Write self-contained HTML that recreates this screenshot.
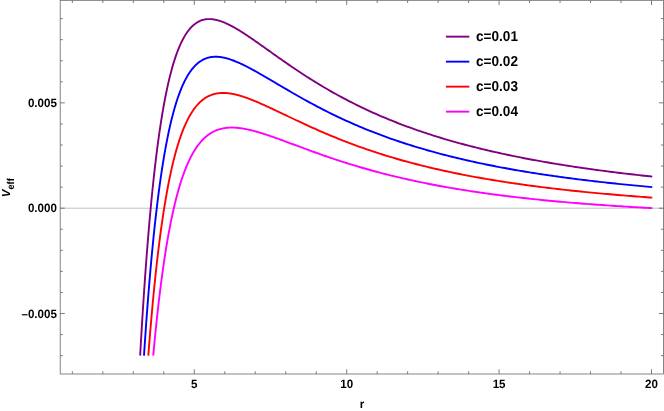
<!DOCTYPE html>
<html><head><meta charset="utf-8"><title>Veff plot</title>
<style>html,body{margin:0;padding:0;background:#fff;}body{width:664px;height:411px;position:relative;overflow:hidden;font-family:"Liberation Sans",sans-serif;}svg{position:absolute;left:0;top:0;display:block;}svg.t{will-change:transform;}text{font-family:"Liberation Sans",sans-serif;font-weight:bold;fill:#000;text-rendering:geometricPrecision;}</style></head>
<body>
<svg width="664" height="411" viewBox="0 0 664 411">
<rect x="0" y="0" width="664" height="411" fill="#fff"/>
<line x1="60.2" y1="208.20" x2="663.5" y2="208.20" stroke="#b0b0b0" stroke-width="0.8"/>
<polyline points="140.14,355.65 140.81,343.93 141.47,332.58 142.14,321.60 142.80,310.97 143.47,300.69 144.13,290.73 144.80,281.09 145.46,271.76 146.13,262.73 146.79,254.00 147.46,245.54 148.12,237.35 148.79,229.43 149.45,221.76 150.11,214.34 150.78,207.16 151.44,200.21 152.11,193.48 152.77,186.98 153.44,180.68 154.10,174.58 154.77,168.69 155.43,162.98 156.10,157.46 156.76,152.12 157.43,146.96 158.09,141.96 158.76,137.13 159.42,132.45 160.09,127.93 160.75,123.56 161.41,119.33 162.08,115.25 162.74,111.30 163.41,107.48 164.07,103.79 164.74,100.23 165.40,96.78 166.07,93.45 166.73,90.24 167.40,87.13 168.06,84.13 168.73,81.24 169.39,78.45 170.06,75.75 170.72,73.15 171.39,70.64 172.05,68.22 172.71,65.88 173.38,63.63 174.04,61.46 174.71,59.37 175.37,57.36 176.04,55.42 176.70,53.56 177.37,51.76 178.03,50.04 178.70,48.37 179.36,46.78 180.03,45.24 180.69,43.77 181.36,42.36 182.02,41.00 182.69,39.70 183.35,38.45 184.01,37.26 184.68,36.11 185.34,35.02 186.01,33.97 186.67,32.97 187.34,32.02 188.00,31.10 188.67,30.24 189.33,29.41 190.00,28.62 190.66,27.88 191.33,27.17 191.99,26.50 192.66,25.86 193.32,25.26 193.99,24.69 194.65,24.16 195.31,23.66 195.98,23.19 196.64,22.75 197.31,22.33 197.97,21.95 198.64,21.60 199.30,21.27 199.97,20.96 200.63,20.69 201.30,20.43 201.96,20.21 202.63,20.00 203.29,19.82 203.96,19.66 204.62,19.52 205.29,19.40 205.95,19.30 206.61,19.22 207.28,19.16 207.94,19.12 208.61,19.09 209.27,19.08 209.94,19.09 210.60,19.12 211.27,19.16 211.93,19.22 212.60,19.29 213.26,19.38 213.93,19.48 214.59,19.59 215.26,19.72 215.92,19.86 216.58,20.01 217.25,20.17 217.91,20.35 218.58,20.54 219.24,20.74 219.91,20.94 220.57,21.16 221.24,21.39 221.90,21.63 222.57,21.88 223.23,22.14 223.90,22.40 224.56,22.68 225.23,22.96 225.89,23.25 226.56,23.55 227.22,23.86 227.88,24.17 228.55,24.49 229.21,24.82 229.88,25.15 230.54,25.49 231.21,25.84 231.87,26.19 232.54,26.55 233.20,26.91 233.87,27.28 234.53,27.66 235.20,28.03 235.86,28.42 236.53,28.81 237.19,29.20 237.86,29.59 238.52,30.00 239.18,30.40 239.85,30.81 240.51,31.22 241.18,31.64 241.84,32.06 242.51,32.48 243.17,32.91 243.84,33.33 244.50,33.77 245.17,34.20 245.83,34.64 246.50,35.08 247.16,35.52 247.83,35.96 248.49,36.41 249.16,36.86 249.82,37.31 250.48,37.76 251.15,38.21 251.81,38.67 252.48,39.13 253.14,39.58 253.81,40.04 254.47,40.51 255.14,40.97 255.80,41.43 256.47,41.90 257.13,42.36 257.80,42.83 258.46,43.30 259.13,43.77 259.79,44.24 260.46,44.71 261.12,45.18 261.78,45.65 262.45,46.12 263.11,46.59 263.78,47.06 264.44,47.54 265.11,48.01 265.77,48.48 266.44,48.96 267.10,49.43 267.77,49.90 268.43,50.38 269.10,50.85 269.76,51.33 270.43,51.80 271.09,52.27 271.76,52.74 272.42,53.22 273.08,53.69 273.75,54.16 274.41,54.63 275.08,55.11 275.74,55.58 276.41,56.05 277.07,56.52 277.74,56.99 278.40,57.46 279.07,57.93 279.73,58.39 280.40,58.86 281.06,59.33 281.73,59.79 282.39,60.26 283.06,60.72 283.72,61.19 284.38,61.65 285.05,62.11 285.71,62.57 288.35,64.39 290.99,66.20 293.63,67.99 296.26,69.76 298.90,71.52 301.54,73.26 304.17,74.98 306.81,76.68 309.45,78.36 312.08,80.02 314.72,81.66 317.36,83.28 320.00,84.88 322.63,86.46 325.27,88.01 327.91,89.55 330.54,91.06 333.18,92.56 335.82,94.03 338.45,95.48 341.09,96.91 343.73,98.32 346.37,99.71 349.00,101.08 351.64,102.43 354.28,103.76 356.91,105.07 359.55,106.36 362.19,107.63 364.82,108.88 367.46,110.12 370.10,111.33 372.74,112.53 375.37,113.70 378.01,114.86 380.65,116.01 383.28,117.13 385.92,118.24 388.56,119.33 391.19,120.40 393.83,121.46 396.47,122.50 399.11,123.53 401.74,124.54 404.38,125.54 407.02,126.52 409.65,127.48 412.29,128.43 414.93,129.37 417.57,130.29 420.20,131.20 422.84,132.09 425.48,132.97 428.11,133.84 430.75,134.70 433.39,135.54 436.02,136.37 438.66,137.19 441.30,137.99 443.94,138.79 446.57,139.57 449.21,140.34 451.85,141.10 454.48,141.84 457.12,142.58 459.76,143.31 462.39,144.02 465.03,144.73 467.67,145.42 470.31,146.11 472.94,146.78 475.58,147.45 478.22,148.10 480.85,148.75 483.49,149.39 486.13,150.02 488.76,150.64 491.40,151.25 494.04,151.85 496.68,152.44 499.31,153.03 501.95,153.61 504.59,154.18 507.22,154.74 509.86,155.29 512.50,155.84 515.13,156.38 517.77,156.91 520.41,157.43 523.05,157.95 525.68,158.46 528.32,158.96 530.96,159.46 533.59,159.95 536.23,160.43 538.87,160.91 541.51,161.38 544.14,161.84 546.78,162.30 549.42,162.75 552.05,163.20 554.69,163.64 557.33,164.08 559.96,164.50 562.60,164.93 565.24,165.35 567.88,165.76 570.51,166.17 573.15,166.57 575.79,166.97 578.42,167.36 581.06,167.75 583.70,168.13 586.33,168.51 588.97,168.88 591.61,169.25 594.25,169.61 596.88,169.97 599.52,170.32 602.16,170.67 604.79,171.02 607.43,171.36 610.07,171.70 612.70,172.03 615.34,172.36 617.98,172.69 620.62,173.01 623.25,173.33 625.89,173.64 628.53,173.95 631.16,174.26 633.80,174.56 636.44,174.86 639.07,175.16 641.71,175.45 644.35,175.74 646.99,176.02 649.62,176.31 652.26,176.59" fill="none" stroke="#800080" stroke-width="1.9" stroke-linejoin="round"/>
<polyline points="143.99,355.66 144.64,345.81 145.29,336.26 145.93,327.01 146.58,318.03 147.23,309.34 147.88,300.90 148.52,292.72 149.17,284.80 149.82,277.11 150.46,269.66 151.11,262.43 151.76,255.43 152.41,248.63 153.05,242.05 153.70,235.66 154.35,229.47 154.99,223.47 155.64,217.66 156.29,212.02 156.94,206.55 157.58,201.25 158.23,196.11 158.88,191.13 159.52,186.31 160.17,181.63 160.82,177.09 161.47,172.70 162.11,168.44 162.76,164.32 163.41,160.32 164.05,156.44 164.70,152.69 165.35,149.05 166.00,145.53 166.64,142.12 167.29,138.82 167.94,135.62 168.58,132.52 169.23,129.52 169.88,126.62 170.53,123.81 171.17,121.09 171.82,118.45 172.47,115.91 173.11,113.44 173.76,111.06 174.41,108.75 175.06,106.52 175.70,104.37 176.35,102.28 177.00,100.27 177.64,98.32 178.29,96.44 178.94,94.63 179.59,92.88 180.23,91.18 180.88,89.55 181.53,87.98 182.17,86.46 182.82,84.99 183.47,83.58 184.12,82.22 184.76,80.90 185.41,79.64 186.06,78.43 186.70,77.26 187.35,76.13 188.00,75.05 188.64,74.01 189.29,73.01 189.94,72.05 190.59,71.13 191.23,70.25 191.88,69.41 192.53,68.60 193.17,67.82 193.82,67.08 194.47,66.38 195.12,65.70 195.76,65.06 196.41,64.44 197.06,63.86 197.70,63.30 198.35,62.78 199.00,62.28 199.65,61.80 200.29,61.35 200.94,60.93 201.59,60.53 202.23,60.16 202.88,59.80 203.53,59.47 204.18,59.17 204.82,58.88 205.47,58.61 206.12,58.37 206.76,58.14 207.41,57.93 208.06,57.74 208.71,57.57 209.35,57.42 210.00,57.28 210.65,57.16 211.29,57.06 211.94,56.97 212.59,56.90 213.24,56.84 213.88,56.80 214.53,56.77 215.18,56.75 215.82,56.75 216.47,56.76 217.12,56.78 217.77,56.81 218.41,56.86 219.06,56.92 219.71,56.98 220.35,57.06 221.00,57.15 221.65,57.25 222.30,57.36 222.94,57.48 223.59,57.61 224.24,57.75 224.88,57.90 225.53,58.05 226.18,58.22 226.83,58.39 227.47,58.57 228.12,58.76 228.77,58.95 229.41,59.15 230.06,59.36 230.71,59.58 231.36,59.80 232.00,60.03 232.65,60.26 233.30,60.51 233.94,60.75 234.59,61.00 235.24,61.26 235.89,61.52 236.53,61.79 237.18,62.07 237.83,62.34 238.47,62.63 239.12,62.91 239.77,63.20 240.42,63.50 241.06,63.80 241.71,64.10 242.36,64.41 243.00,64.72 243.65,65.03 244.30,65.35 244.95,65.67 245.59,66.00 246.24,66.32 246.89,66.65 247.53,66.99 248.18,67.32 248.83,67.66 249.47,68.00 250.12,68.34 250.77,68.69 251.42,69.04 252.06,69.39 252.71,69.74 253.36,70.09 254.00,70.45 254.65,70.80 255.30,71.16 255.95,71.53 256.59,71.89 257.24,72.25 257.89,72.62 258.53,72.98 259.18,73.35 259.83,73.72 260.48,74.09 261.12,74.46 261.77,74.84 262.42,75.21 263.06,75.58 263.71,75.96 264.36,76.34 265.01,76.71 265.65,77.09 266.30,77.47 266.95,77.85 267.59,78.23 268.24,78.61 268.89,78.99 269.54,79.37 270.18,79.75 270.83,80.13 271.48,80.51 272.12,80.89 272.77,81.27 273.42,81.66 274.07,82.04 274.71,82.42 275.36,82.80 276.01,83.19 276.65,83.57 277.30,83.95 277.95,84.33 278.60,84.72 279.24,85.10 279.89,85.48 280.54,85.86 281.18,86.24 281.83,86.62 282.48,87.00 283.13,87.39 283.77,87.77 284.42,88.14 285.07,88.52 285.71,88.90 288.35,90.44 290.99,91.97 293.63,93.49 296.26,95.00 298.90,96.50 301.54,97.99 304.17,99.46 306.81,100.91 309.45,102.36 312.08,103.78 314.72,105.19 317.36,106.59 320.00,107.96 322.63,109.33 325.27,110.67 327.91,112.00 330.54,113.31 333.18,114.60 335.82,115.87 338.45,117.13 341.09,118.37 343.73,119.59 346.37,120.80 349.00,121.99 351.64,123.16 354.28,124.31 356.91,125.45 359.55,126.57 362.19,127.68 364.82,128.76 367.46,129.84 370.10,130.89 372.74,131.93 375.37,132.96 378.01,133.97 380.65,134.96 383.28,135.94 385.92,136.90 388.56,137.85 391.19,138.79 393.83,139.71 396.47,140.61 399.11,141.50 401.74,142.38 404.38,143.25 407.02,144.10 409.65,144.94 412.29,145.77 414.93,146.58 417.57,147.38 420.20,148.17 422.84,148.95 425.48,149.71 428.11,150.47 430.75,151.21 433.39,151.94 436.02,152.66 438.66,153.37 441.30,154.07 443.94,154.76 446.57,155.43 449.21,156.10 451.85,156.76 454.48,157.41 457.12,158.04 459.76,158.67 462.39,159.29 465.03,159.90 467.67,160.50 470.31,161.09 472.94,161.68 475.58,162.25 478.22,162.82 480.85,163.38 483.49,163.93 486.13,164.47 488.76,165.00 491.40,165.53 494.04,166.05 496.68,166.56 499.31,167.07 501.95,167.56 504.59,168.05 507.22,168.54 509.86,169.01 512.50,169.48 515.13,169.94 517.77,170.40 520.41,170.85 523.05,171.29 525.68,171.73 528.32,172.16 530.96,172.59 533.59,173.01 536.23,173.42 538.87,173.83 541.51,174.23 544.14,174.63 546.78,175.02 549.42,175.40 552.05,175.79 554.69,176.16 557.33,176.53 559.96,176.90 562.60,177.26 565.24,177.61 567.88,177.97 570.51,178.31 573.15,178.65 575.79,178.99 578.42,179.33 581.06,179.65 583.70,179.98 586.33,180.30 588.97,180.61 591.61,180.93 594.25,181.23 596.88,181.54 599.52,181.84 602.16,182.13 604.79,182.43 607.43,182.72 610.07,183.00 612.70,183.28 615.34,183.56 617.98,183.83 620.62,184.11 623.25,184.37 625.89,184.64 628.53,184.90 631.16,185.16 633.80,185.41 636.44,185.66 639.07,185.91 641.71,186.15 644.35,186.40 646.99,186.64 649.62,186.87 652.26,187.11" fill="none" stroke="#0000ff" stroke-width="1.9" stroke-linejoin="round"/>
<polyline points="148.31,355.65 148.94,347.53 149.57,339.65 150.20,331.99 150.82,324.55 151.45,317.32 152.08,310.30 152.71,303.48 153.33,296.86 153.96,290.43 154.59,284.18 155.22,278.11 155.84,272.22 156.47,266.49 157.10,260.93 157.72,255.53 158.35,250.28 158.98,245.18 159.61,240.23 160.23,235.42 160.86,230.75 161.49,226.22 162.12,221.81 162.74,217.53 163.37,213.38 164.00,209.34 164.63,205.42 165.25,201.62 165.88,197.92 166.51,194.33 167.14,190.85 167.76,187.47 168.39,184.18 169.02,180.99 169.65,177.90 170.27,174.89 170.90,171.98 171.53,169.15 172.16,166.40 172.78,163.74 173.41,161.15 174.04,158.64 174.66,156.21 175.29,153.85 175.92,151.56 176.55,149.34 177.17,147.18 177.80,145.09 178.43,143.07 179.06,141.11 179.68,139.20 180.31,137.36 180.94,135.57 181.57,133.84 182.19,132.16 182.82,130.54 183.45,128.97 184.08,127.45 184.70,125.97 185.33,124.55 185.96,123.17 186.59,121.83 187.21,120.54 187.84,119.29 188.47,118.09 189.09,116.92 189.72,115.79 190.35,114.71 190.98,113.66 191.60,112.64 192.23,111.66 192.86,110.72 193.49,109.81 194.11,108.93 194.74,108.09 195.37,107.27 196.00,106.49 196.62,105.74 197.25,105.01 197.88,104.31 198.51,103.64 199.13,103.00 199.76,102.38 200.39,101.79 201.02,101.23 201.64,100.68 202.27,100.16 202.90,99.67 203.52,99.19 204.15,98.74 204.78,98.31 205.41,97.90 206.03,97.51 206.66,97.14 207.29,96.79 207.92,96.45 208.54,96.14 209.17,95.84 209.80,95.56 210.43,95.29 211.05,95.05 211.68,94.82 212.31,94.60 212.94,94.40 213.56,94.21 214.19,94.04 214.82,93.88 215.45,93.74 216.07,93.61 216.70,93.49 217.33,93.38 217.96,93.29 218.58,93.21 219.21,93.14 219.84,93.08 220.46,93.03 221.09,92.99 221.72,92.97 222.35,92.95 222.97,92.94 223.60,92.95 224.23,92.96 224.86,92.98 225.48,93.01 226.11,93.05 226.74,93.10 227.37,93.15 227.99,93.22 228.62,93.29 229.25,93.37 229.88,93.45 230.50,93.55 231.13,93.65 231.76,93.76 232.39,93.87 233.01,93.99 233.64,94.12 234.27,94.25 234.89,94.39 235.52,94.53 236.15,94.68 236.78,94.84 237.40,95.00 238.03,95.16 238.66,95.33 239.29,95.51 239.91,95.69 240.54,95.87 241.17,96.06 241.80,96.26 242.42,96.45 243.05,96.66 243.68,96.86 244.31,97.07 244.93,97.28 245.56,97.50 246.19,97.72 246.82,97.94 247.44,98.17 248.07,98.40 248.70,98.63 249.32,98.87 249.95,99.11 250.58,99.35 251.21,99.59 251.83,99.84 252.46,100.09 253.09,100.34 253.72,100.60 254.34,100.85 254.97,101.11 255.60,101.37 256.23,101.64 256.85,101.90 257.48,102.17 258.11,102.43 258.74,102.70 259.36,102.98 259.99,103.25 260.62,103.53 261.25,103.80 261.87,104.08 262.50,104.36 263.13,104.64 263.76,104.92 264.38,105.20 265.01,105.49 265.64,105.77 266.26,106.06 266.89,106.35 267.52,106.64 268.15,106.93 268.77,107.22 269.40,107.51 270.03,107.80 270.66,108.09 271.28,108.38 271.91,108.68 272.54,108.97 273.17,109.27 273.79,109.56 274.42,109.86 275.05,110.16 275.68,110.45 276.30,110.75 276.93,111.05 277.56,111.35 278.19,111.64 278.81,111.94 279.44,112.24 280.07,112.54 280.69,112.84 281.32,113.14 281.95,113.44 282.58,113.74 283.20,114.04 283.83,114.34 284.46,114.64 285.09,114.94 285.71,115.23 288.35,116.49 290.99,117.75 293.63,119.00 296.26,120.24 298.90,121.48 301.54,122.71 304.17,123.94 306.81,125.15 309.45,126.35 312.08,127.54 314.72,128.72 317.36,129.89 320.00,131.05 322.63,132.19 325.27,133.33 327.91,134.44 330.54,135.55 333.18,136.64 335.82,137.72 338.45,138.78 341.09,139.83 343.73,140.86 346.37,141.89 349.00,142.89 351.64,143.89 354.28,144.87 356.91,145.83 359.55,146.78 362.19,147.72 364.82,148.65 367.46,149.56 370.10,150.45 372.74,151.34 375.37,152.21 378.01,153.07 380.65,153.91 383.28,154.74 385.92,155.56 388.56,156.37 391.19,157.17 393.83,157.95 396.47,158.72 399.11,159.48 401.74,160.23 404.38,160.96 407.02,161.69 409.65,162.40 412.29,163.10 414.93,163.79 417.57,164.47 420.20,165.14 422.84,165.80 425.48,166.45 428.11,167.09 430.75,167.72 433.39,168.34 436.02,168.95 438.66,169.55 441.30,170.14 443.94,170.73 446.57,171.30 449.21,171.86 451.85,172.42 454.48,172.97 457.12,173.51 459.76,174.04 462.39,174.56 465.03,175.07 467.67,175.58 470.31,176.08 472.94,176.57 475.58,177.06 478.22,177.53 480.85,178.00 483.49,178.47 486.13,178.92 488.76,179.37 491.40,179.81 494.04,180.25 496.68,180.68 499.31,181.10 501.95,181.52 504.59,181.93 507.22,182.33 509.86,182.73 512.50,183.12 515.13,183.51 517.77,183.89 520.41,184.27 523.05,184.64 525.68,185.00 528.32,185.36 530.96,185.72 533.59,186.06 536.23,186.41 538.87,186.75 541.51,187.08 544.14,187.41 546.78,187.74 549.42,188.06 552.05,188.37 554.69,188.68 557.33,188.99 559.96,189.29 562.60,189.59 565.24,189.88 567.88,190.17 570.51,190.46 573.15,190.74 575.79,191.02 578.42,191.29 581.06,191.56 583.70,191.83 586.33,192.09 588.97,192.35 591.61,192.61 594.25,192.86 596.88,193.11 599.52,193.35 602.16,193.59 604.79,193.83 607.43,194.07 610.07,194.30 612.70,194.53 615.34,194.76 617.98,194.98 620.62,195.20 623.25,195.42 625.89,195.63 628.53,195.84 631.16,196.05 633.80,196.26 636.44,196.46 639.07,196.66 641.71,196.86 644.35,197.05 646.99,197.25 649.62,197.44 652.26,197.62" fill="none" stroke="#ff0000" stroke-width="1.9" stroke-linejoin="round"/>
<polyline points="153.22,355.65 153.83,349.11 154.43,342.73 155.04,336.53 155.64,330.50 156.25,324.62 156.85,318.91 157.46,313.34 158.06,307.93 158.67,302.66 159.27,297.53 159.88,292.54 160.48,287.68 161.09,282.95 161.69,278.35 162.30,273.87 162.90,269.51 163.51,265.27 164.11,261.14 164.72,257.12 165.32,253.20 165.93,249.40 166.53,245.69 167.14,242.09 167.74,238.58 168.35,235.16 168.95,231.84 169.56,228.60 170.16,225.46 170.77,222.39 171.37,219.41 171.98,216.51 172.58,213.69 173.19,210.95 173.79,208.28 174.40,205.68 175.00,203.15 175.61,200.69 176.21,198.30 176.82,195.97 177.42,193.71 178.03,191.51 178.63,189.37 179.24,187.29 179.84,185.26 180.45,183.30 181.05,181.38 181.66,179.52 182.26,177.71 182.87,175.96 183.47,174.25 184.08,172.59 184.68,170.98 185.29,169.41 185.89,167.89 186.50,166.41 187.10,164.97 187.71,163.58 188.31,162.22 188.92,160.91 189.52,159.63 190.13,158.39 190.73,157.19 191.34,156.02 191.94,154.89 192.55,153.80 193.15,152.73 193.76,151.70 194.36,150.70 194.97,149.73 195.57,148.79 196.18,147.88 196.78,147.00 197.39,146.14 197.99,145.32 198.60,144.52 199.20,143.74 199.81,142.99 200.41,142.27 201.02,141.57 201.62,140.89 202.23,140.24 202.83,139.61 203.44,139.00 204.04,138.41 204.65,137.84 205.25,137.30 205.86,136.77 206.46,136.26 207.07,135.77 207.67,135.30 208.28,134.85 208.88,134.42 209.49,134.00 210.09,133.60 210.70,133.22 211.30,132.85 211.91,132.50 212.51,132.16 213.12,131.84 213.72,131.53 214.33,131.23 214.93,130.95 215.54,130.69 216.14,130.43 216.75,130.19 217.35,129.97 217.96,129.75 218.56,129.55 219.17,129.35 219.77,129.17 220.38,129.00 220.98,128.84 221.59,128.70 222.19,128.56 222.80,128.43 223.40,128.31 224.01,128.20 224.61,128.11 225.22,128.02 225.82,127.93 226.43,127.86 227.03,127.80 227.64,127.74 228.24,127.69 228.85,127.65 229.45,127.62 230.06,127.60 230.66,127.58 231.27,127.57 231.87,127.57 232.48,127.57 233.08,127.58 233.69,127.60 234.29,127.62 234.90,127.65 235.50,127.69 236.11,127.73 236.71,127.77 237.32,127.83 237.92,127.88 238.53,127.95 239.13,128.01 239.74,128.09 240.34,128.17 240.95,128.25 241.55,128.34 242.16,128.43 242.76,128.52 243.37,128.62 243.97,128.73 244.58,128.84 245.18,128.95 245.79,129.07 246.39,129.19 247.00,129.31 247.60,129.44 248.21,129.57 248.81,129.70 249.42,129.84 250.02,129.98 250.63,130.13 251.23,130.27 251.84,130.42 252.44,130.57 253.05,130.73 253.65,130.89 254.26,131.05 254.86,131.21 255.47,131.38 256.07,131.54 256.68,131.71 257.28,131.89 257.89,132.06 258.49,132.24 259.10,132.42 259.70,132.60 260.30,132.78 260.91,132.97 261.51,133.15 262.12,133.34 262.72,133.53 263.33,133.72 263.93,133.92 264.54,134.11 265.14,134.31 265.75,134.50 266.35,134.70 266.96,134.90 267.56,135.11 268.17,135.31 268.77,135.51 269.38,135.72 269.98,135.92 270.59,136.13 271.19,136.34 271.80,136.55 272.40,136.76 273.01,136.97 273.61,137.18 274.22,137.40 274.82,137.61 275.43,137.83 276.03,138.04 276.64,138.26 277.24,138.48 277.85,138.69 278.45,138.91 279.06,139.13 279.66,139.35 280.27,139.57 280.87,139.79 281.48,140.01 282.08,140.23 282.69,140.45 283.29,140.67 283.90,140.90 284.50,141.12 285.11,141.34 285.71,141.57 288.35,142.54 290.99,143.52 293.63,144.50 296.26,145.48 298.90,146.46 301.54,147.44 304.17,148.41 306.81,149.38 309.45,150.35 312.08,151.31 314.72,152.26 317.36,153.20 320.00,154.14 322.63,155.06 325.27,155.98 327.91,156.89 330.54,157.79 333.18,158.68 335.82,159.56 338.45,160.43 341.09,161.29 343.73,162.14 346.37,162.97 349.00,163.80 351.64,164.61 354.28,165.42 356.91,166.21 359.55,167.00 362.19,167.77 364.82,168.53 367.46,169.28 370.10,170.02 372.74,170.74 375.37,171.46 378.01,172.17 380.65,172.87 383.28,173.55 385.92,174.23 388.56,174.89 391.19,175.55 393.83,176.19 396.47,176.83 399.11,177.45 401.74,178.07 404.38,178.67 407.02,179.27 409.65,179.86 412.29,180.43 414.93,181.00 417.57,181.56 420.20,182.11 422.84,182.66 425.48,183.19 428.11,183.71 430.75,184.23 433.39,184.74 436.02,185.24 438.66,185.73 441.30,186.22 443.94,186.69 446.57,187.16 449.21,187.63 451.85,188.08 454.48,188.53 457.12,188.97 459.76,189.40 462.39,189.83 465.03,190.25 467.67,190.66 470.31,191.07 472.94,191.47 475.58,191.86 478.22,192.25 480.85,192.63 483.49,193.01 486.13,193.38 488.76,193.74 491.40,194.10 494.04,194.45 496.68,194.80 499.31,195.14 501.95,195.47 504.59,195.81 507.22,196.13 509.86,196.45 512.50,196.77 515.13,197.08 517.77,197.38 520.41,197.68 523.05,197.98 525.68,198.27 528.32,198.56 530.96,198.84 533.59,199.12 536.23,199.40 538.87,199.67 541.51,199.93 544.14,200.19 546.78,200.45 549.42,200.71 552.05,200.96 554.69,201.20 557.33,201.45 559.96,201.68 562.60,201.92 565.24,202.15 567.88,202.38 570.51,202.60 573.15,202.83 575.79,203.04 578.42,203.26 581.06,203.47 583.70,203.68 586.33,203.88 588.97,204.09 591.61,204.29 594.25,204.48 596.88,204.68 599.52,204.87 602.16,205.05 604.79,205.24 607.43,205.42 610.07,205.60 612.70,205.78 615.34,205.95 617.98,206.12 620.62,206.29 623.25,206.46 625.89,206.63 628.53,206.79 631.16,206.95 633.80,207.10 636.44,207.26 639.07,207.41 641.71,207.56 644.35,207.71 646.99,207.86 649.62,208.00 652.26,208.14" fill="none" stroke="#ff00ff" stroke-width="1.9" stroke-linejoin="round"/>
<rect x="60.2" y="0.32" width="603.30" height="373.68" fill="none" stroke="#666666" stroke-width="0.8"/>
<path d="M72.34 374.0v-2.7M72.34 0.32v2.7M102.82 374.0v-2.7M102.82 0.32v2.7M133.30 374.0v-2.7M133.30 0.32v2.7M163.79 374.0v-2.7M163.79 0.32v2.7M194.27 374.0v-4.7M194.27 0.32v4.7M224.75 374.0v-2.7M224.75 0.32v2.7M255.23 374.0v-2.7M255.23 0.32v2.7M285.71 374.0v-2.7M285.71 0.32v2.7M316.20 374.0v-2.7M316.20 0.32v2.7M346.68 374.0v-4.7M346.68 0.32v4.7M377.16 374.0v-2.7M377.16 0.32v2.7M407.64 374.0v-2.7M407.64 0.32v2.7M438.12 374.0v-2.7M438.12 0.32v2.7M468.61 374.0v-2.7M468.61 0.32v2.7M499.09 374.0v-4.7M499.09 0.32v4.7M529.57 374.0v-2.7M529.57 0.32v2.7M560.05 374.0v-2.7M560.05 0.32v2.7M590.53 374.0v-2.7M590.53 0.32v2.7M621.02 374.0v-2.7M621.02 0.32v2.7M651.50 374.0v-4.7M651.50 0.32v4.7M60.2 355.65h2.6M663.5 355.65h-2.6M60.2 334.59h2.6M663.5 334.59h-2.6M60.2 313.52h4.6M663.5 313.52h-4.6M60.2 292.46h2.6M663.5 292.46h-2.6M60.2 271.39h2.6M663.5 271.39h-2.6M60.2 250.33h2.6M663.5 250.33h-2.6M60.2 229.26h2.6M663.5 229.26h-2.6M60.2 208.20h4.6M663.5 208.20h-4.6M60.2 187.13h2.6M663.5 187.13h-2.6M60.2 166.07h2.6M663.5 166.07h-2.6M60.2 145.00h2.6M663.5 145.00h-2.6M60.2 123.94h2.6M663.5 123.94h-2.6M60.2 102.87h4.6M663.5 102.87h-4.6M60.2 81.81h2.6M663.5 81.81h-2.6M60.2 60.74h2.6M663.5 60.74h-2.6M60.2 39.68h2.6M663.5 39.68h-2.6M60.2 18.61h2.6M663.5 18.61h-2.6" stroke="#666666" stroke-width="0.85" fill="none"/>
<line x1="445.9" y1="36.65" x2="469.3" y2="36.65" stroke="#800080" stroke-width="1.9"/>
<line x1="445.9" y1="61.65" x2="469.3" y2="61.65" stroke="#0000ff" stroke-width="1.9"/>
<line x1="445.9" y1="86.65" x2="469.3" y2="86.65" stroke="#ff0000" stroke-width="1.9"/>
<line x1="445.9" y1="111.65" x2="469.3" y2="111.65" stroke="#ff00ff" stroke-width="1.9"/>
</svg>
<svg class="t" width="664" height="411" viewBox="0 0 664 411">
<text transform="translate(56.90,107.02) scale(1,1.04)" font-size="11.6" text-anchor="end">0.005</text>
<text transform="translate(56.90,212.35) scale(1,1.04)" font-size="11.6" text-anchor="end">0.000</text>
<text transform="translate(56.90,317.67) scale(1,1.04)" font-size="11.6" text-anchor="end">–0.005</text>
<text transform="translate(194.27,387.90) scale(1,1.04)" font-size="11.6" text-anchor="middle">5</text>
<text transform="translate(346.68,387.90) scale(1,1.04)" font-size="11.6" text-anchor="middle">10</text>
<text transform="translate(499.09,387.90) scale(1,1.04)" font-size="11.6" text-anchor="middle">15</text>
<text transform="translate(651.50,387.90) scale(1,1.04)" font-size="11.6" text-anchor="middle">20</text>
<text transform="translate(362.10,407.70) scale(1,1.04)" font-size="11.6" text-anchor="middle">r</text>
<g transform="translate(10.2,197.3) rotate(-90)"><text x="0" y="0" font-size="11.6" font-style="italic">V</text><text transform="translate(7.74,3.3) scale(0.93,1)" font-size="10">eff</text></g>
<text transform="translate(476.00,41.40) scale(0.985,1.04)" font-size="13.8" text-anchor="start">c=0.01</text>
<text transform="translate(476.00,66.40) scale(0.985,1.04)" font-size="13.8" text-anchor="start">c=0.02</text>
<text transform="translate(476.00,91.40) scale(0.985,1.04)" font-size="13.8" text-anchor="start">c=0.03</text>
<text transform="translate(476.00,116.40) scale(0.985,1.04)" font-size="13.8" text-anchor="start">c=0.04</text>
</svg>
</body></html>
